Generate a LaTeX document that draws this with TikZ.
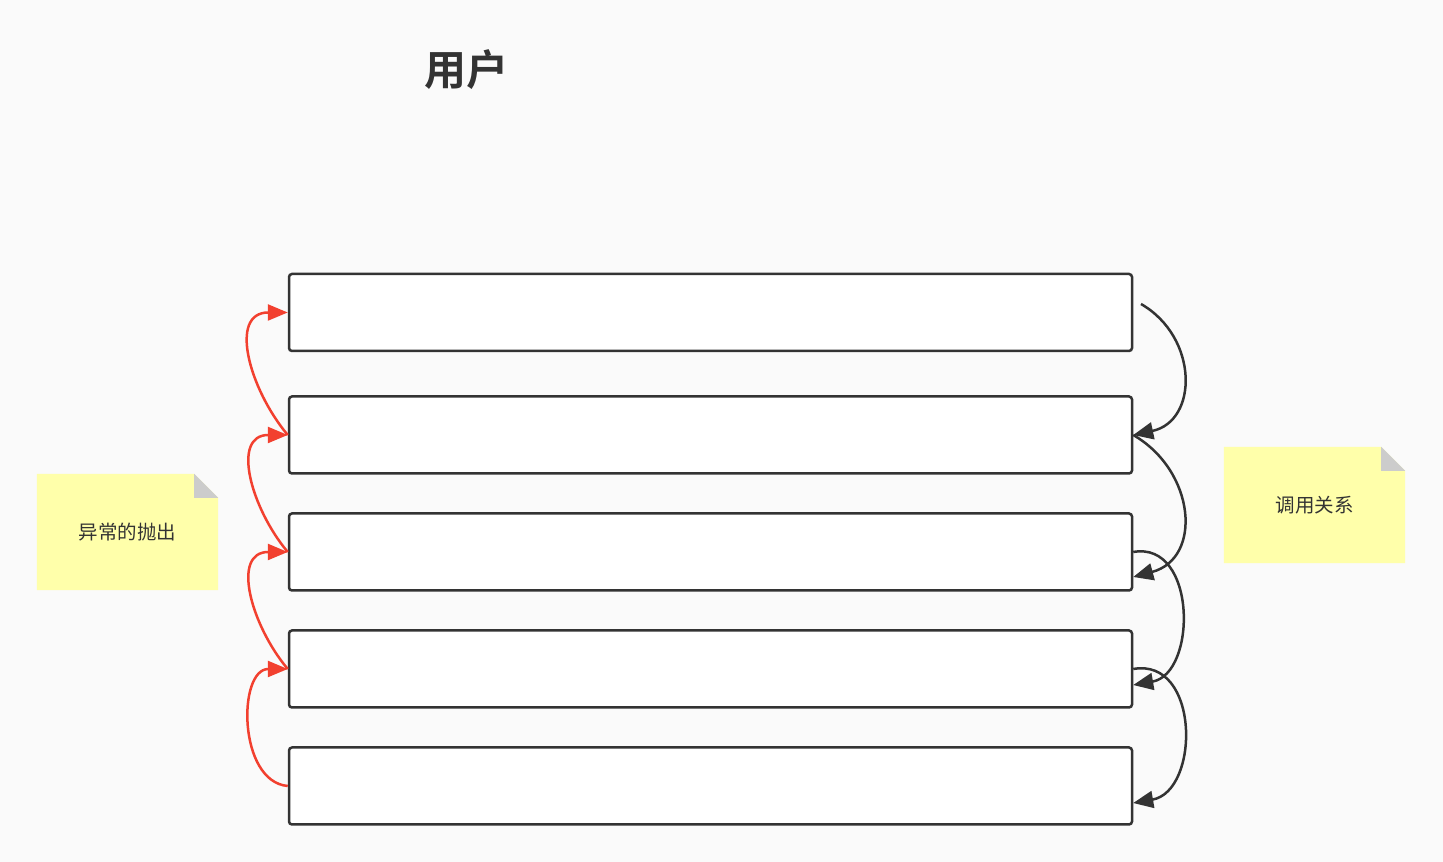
\documentclass[tikz,border=0pt]{standalone}
\usepackage{fontspec}
\newfontfamily\cjk{Noto Sans CJK SC}[BoldFont={Noto Sans CJK SC Bold}]
\usetikzlibrary{arrows.meta,backgrounds}
\definecolor{ink}{HTML}{333333}
\definecolor{errred}{HTML}{F2402F}
\definecolor{notey}{HTML}{FFFFAA}
\definecolor{foldgray}{HTML}{CCCCCC}
\definecolor{pagebg}{HTML}{FAFAFA}
\tikzset{
  blk/.style={draw=ink,fill=white,line width=2.5pt,rounded corners=3pt,minimum width=843pt,minimum height=77pt,inner sep=0pt},
  notetxt/.style={minimum width=181pt,minimum height=116pt,inner sep=0pt,text=ink,font=\cjk\fontsize{19.5}{19.5}\selectfont},
  callarr/.style={draw=ink,line width=2.5pt,-{Triangle[length=20pt,width=17pt]}},
  errarr/.style={draw=errred,line width=2.5pt,-{Triangle[length=20pt,width=16pt]}}
}
\begin{document}
\begin{tikzpicture}[x=1pt,y=1pt]
\useasboundingbox (0,0) rectangle (1443,862);
\node[text=ink,font=\cjk\bfseries\fontsize{42}{42}\selectfont] (title) at (466,792) {用户};
\node[blk] (b1) at (710.5,549.5) {};
\node[blk] (b2) at (710.5,427) {};
\node[blk] (b3) at (710.5,310) {};
\node[blk] (b4) at (710.5,193) {};
\node[blk] (b5) at (710.5,76) {};
\node[notetxt] (n1) at (127.5,330) {异常的抛出};
\node[notetxt] (n2) at (1314.5,357) {调用关系};
\begin{scope}[on background layer]
\fill[pagebg] (0,0) rectangle (1443,862);
\foreach \n in {n1,n2} {
  \fill[notey] (\n.south west) -- (\n.north west) -- ([xshift=-24pt]\n.north east) -- ([yshift=-24pt]\n.north east) -- (\n.south east) -- cycle;
  \fill[foldgray] ([xshift=-24pt]\n.north east) -- ([xshift=-24pt,yshift=-24pt]\n.north east) -- ([yshift=-24pt]\n.north east) -- cycle;
}
\end{scope}
\coordinate (c0) at (1141,558);
\draw[callarr] (c0) to[out=-30,in=12,looseness=1.3] (b2.east);
\draw[callarr] (b2.east) to[out=-30,in=15,looseness=1.3] ([yshift=-25pt]b3.east);
\draw[callarr] (b3.east) to[out=10,in=10,looseness=1.25] ([yshift=-16pt]b4.east);
\draw[callarr] (b4.east) to[out=10,in=10,looseness=1.3] ([yshift=-17pt]b5.east);
\draw[errarr] (b2.west) to[out=130,in=180,looseness=1.25] (b1.west);
\draw[errarr] (b3.west) to[out=130,in=180,looseness=1.25] (b2.west);
\draw[errarr] (b4.west) to[out=130,in=180,looseness=1.25] (b3.west);
\draw[errarr] (b5.west) to[out=175,in=180,looseness=1.1] (b4.west);
\end{tikzpicture}
\end{document}
